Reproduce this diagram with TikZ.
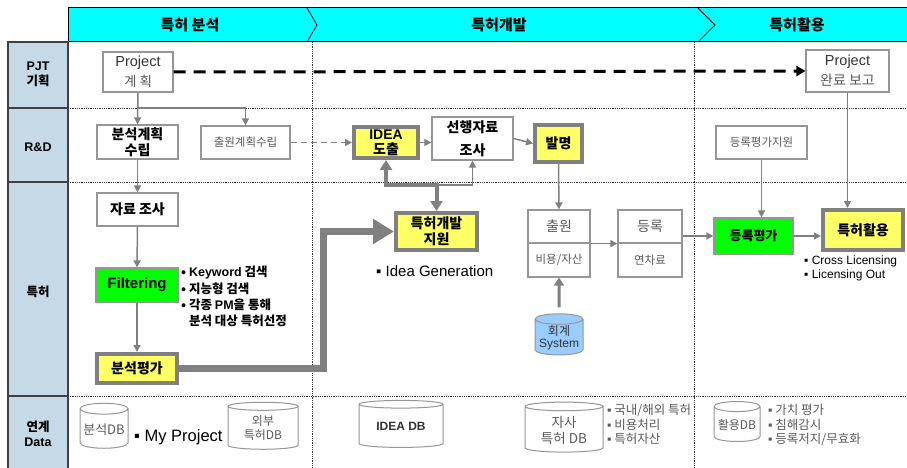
\documentclass[tikz,border=0pt]{standalone}
\usepackage{fontspec}
\setmainfont{Noto Sans CJK KR}
\newfontfamily\en{Liberation Sans}
\usepackage{xcolor}
\usetikzlibrary{arrows, arrows.meta}
\usetikzlibrary{positioning}
\usetikzlibrary{calc}
\usetikzlibrary{shapes.geometric}

\definecolor{hdrCyan}{RGB}{0,255,255}
\definecolor{laneBlue}{RGB}{197,217,230}
\definecolor{lnGray}{RGB}{128,128,128}
\definecolor{boxGray}{RGB}{150,150,150}
\definecolor{txtGray}{RGB}{90,90,90}
\definecolor{hiYel}{RGB}{255,255,102}
\definecolor{hiGrn}{RGB}{0,255,0}
\definecolor{dbBlue}{RGB}{153,204,255}
\newcommand{\sqb}{{\en ▪}\ }

\tikzset{
	hdr/.style={font=\bfseries\fontsize{15}{17}\selectfont},
	lane/.style={align=center, font=\bfseries\fontsize{12.5}{15}\selectfont},
	tbox/.style={draw=boxGray, line width=1.2pt, fill=white, align=center, inner sep=1pt, text=txtGray, font=\fontsize{11.5}{14}\selectfont},
	boldbox/.style={tbox, text=black, font=\bfseries\fontsize{14}{17}\selectfont},
	hibox/.style={boldbox, fill=hiYel, draw=lnGray, line width=4pt},
	grnbox/.style={boldbox, fill=hiGrn},
	db/.style={cylinder, shape border rotate=90, draw=boxGray, line width=1pt, fill=white, aspect=0.25, align=center, inner sep=1pt, text=txtGray, font=\fontsize{12}{14}\selectfont},
	bullets/.style={align=left, inner sep=0pt, anchor=north west},
	flow/.style={draw=lnGray, line width=1.5pt, -{Triangle[length=7pt,width=7pt]}},
	bigflow/.style={draw=lnGray, line width=7pt, -{Triangle[length=21pt,width=24pt]}},
	midflow/.style={draw=lnGray, line width=4pt, {Triangle[length=10pt,width=12pt]}-{Triangle[length=10pt,width=12pt]}},
	pjtflow/.style={draw=black, line width=3pt, dash pattern=on 12pt off 8pt, -{Triangle[length=9pt,width=10pt]}},
	grid/.style={draw=black!80, line width=0.8pt, densely dotted},
}

\begin{document}
\begin{tikzpicture}[x=1pt,y=-1pt]
	\useasboundingbox (0,0) rectangle (907,468);
	% header band
	\fill[hdrCyan] (68,8) rectangle (907,42);
	\draw[line width=1pt] (907,8) -- (68,8) -- (68,42) -- (907,42);
	\draw[line width=0.8pt] (307,8) -- (317,25) -- (307,42);
	\draw[line width=0.8pt] (698,8) -- (715,25) -- (698,42);
	\node[hdr] (hdAn) at (190,25) {특허 분석};
	\node[hdr] (hdDev) at (499,25) {특허개발};
	\node[hdr] (hdUse) at (797,25) {특허활용};
	% swim lanes
	\fill[laneBlue] (8,42) rectangle (68,468);
	\draw[black!75, line width=1.5pt] (8,468) -- (8,42) -- (68,42) -- (68,468);
	\foreach \y in {108,182,396} {
		\draw[black!75, line width=1.5pt] (8,\y) -- (68,\y);
		\draw[grid] (68,\y) -- (907,\y);
	}
	\foreach \x in {312,694}
		\draw[grid] (\x,42) -- (\x,468);
	\node[lane] (lnPjt) at (38,74) {{\en PJT}\\기획};
	\node[lane] (lnRnd) at (38,147) {\en R\&D};
	\node[lane] (lnPat) at (38,292) {특허};
	\node[lane] (lnData) at (38,434) {연계\\{\en Data}};

	% PJT row
	\node[tbox, minimum width=70pt, minimum height=40pt, font=\fontsize{13.5}{15}\selectfont] (pjtPlan) at (138,72) {{\en\fontsize{14.5}{16}\selectfont\color{black!80}Project}\\[5pt]계 획};
	\node[tbox, minimum width=83pt, minimum height=42pt, font=\fontsize{14}{15}\selectfont] (pjtDone) at (847.5,71) {{\en\fontsize{14.5}{16}\selectfont\color{black!80}Project}\\[5pt]완료 보고};
	\draw[pjtflow] (pjtPlan.east) -- (pjtDone.west);

	% R&D row
	\node[boldbox, minimum width=81pt, minimum height=34pt] (anPlan) at (137.5,142) {분석계획\\[-1pt]수립};
	\node[tbox, minimum width=89pt, minimum height=33pt] (filePlan) at (245.5,142.5) {출원계획수립};
	\node[hibox, minimum width=64pt, minimum height=31pt] (ideaOut) at (386,142.5) {{\en IDEA}\\[-2pt]도출};
	\node[boldbox, minimum width=81pt, minimum height=43pt] (prior) at (472.5,138.5) {선행자료\\[6pt]조사};
	\node[hibox, minimum width=47pt, minimum height=37pt] (invent) at (558.5,143.5) {발명};
	\node[tbox, minimum width=91pt, minimum height=33pt] (regSup) at (761.5,142.5) {등록평가지원};
	\coordinate (brPlan) at (138,108);
	\draw[flow] (pjtPlan.south) -- (anPlan.north);
	\draw[flow] (brPlan) -| (filePlan.north);
	\draw[flow, dash pattern=on 6pt off 4pt, line width=1.2pt] (filePlan.east) -- (ideaOut.west);
	\draw[flow] (ideaOut.east) -- (prior.west |- ideaOut.east);
	\draw[flow] (prior.east) -- (invent.west);

	% patent row
	\node[boldbox, minimum width=81pt, minimum height=33pt] (dataSrch) at (137.5,209.5) {자료 조사};
	\node[grnbox, minimum width=82pt, minimum height=34pt, font=\en\bfseries\fontsize{15}{17}\selectfont] (filt) at (137,285) {Filtering};
	\node[bullets, font=\bfseries\fontsize{12.5}{16.3}\selectfont] (filtNote) at (181,266) {• {\en Keyword} 검색\\• 지능형 검색\\• 각종 {\en PM}을 통해\\\phantom{• }분석 대상 특허선정};
	\node[hibox, minimum width=80pt, minimum height=29pt] (anEval) at (137,368.5) {분석평가};
	\node[hibox, minimum width=81pt, minimum height=37pt] (devSup) at (436.5,231.5) {특허개발\\[-1pt]지원};
	\node[bullets, font=\en\fontsize{15}{17}\selectfont] (ideaGen) at (376,265) {▪ Idea Generation};
	\node[tbox, minimum width=62pt, minimum height=33pt, font=\fontsize{14}{16}\selectfont] (filing) at (559,226.5) {출원};
	\node[tbox, minimum width=62pt, minimum height=34pt] (filingCost) at (559,260) {비용/자산};
	\node[tbox, minimum width=64pt, minimum height=33pt, font=\fontsize{14}{16}\selectfont] (reg) at (650,226.5) {등록};
	\node[tbox, minimum width=64pt, minimum height=34pt] (regFee) at (650,260) {연차료};
	\node[db, fill=dbBlue, minimum width=48pt, minimum height=40pt, text=black!80] (acct) at (559,338) {회계\\[-2pt]{\en System}};
	\node[grnbox, minimum width=79pt, minimum height=36pt, font=\bfseries\fontsize{13}{15}\selectfont] (regEval) at (753.5,236) {등록평가};
	\node[hibox, minimum width=80pt, minimum height=40pt] (useIt) at (863,230) {특허활용};
	\node[bullets, font=\en\fontsize{12}{14}\selectfont] (useNote) at (804,256) {▪ Cross Licensing\\▪ Licensing Out};
	\coordinate (jnDev) at (436.5,185);
	\draw[flow] (anPlan.south) -- (dataSrch.north);
	\draw[flow] (dataSrch.south) -- (filt.north);
	\draw[flow] (filt.south) -- (anEval.north);
	\draw[bigflow] (anEval.east) -- ++(144,0) |- (devSup.west);
	\draw[midflow] (ideaOut.south) |- (jnDev) -- (devSup.north);
	\draw[flow] (jnDev) -| (prior.south);
	\draw[flow] (invent.south) -- (filing.north);
	\draw[flow] (filing.south east) -- (reg.south west);
	\draw[draw=lnGray, line width=3pt, -{Triangle[length=8pt,width=10pt]}, shorten <=6pt] (acct.north) -- (filingCost.south);
	\draw[flow] (reg.east |- regEval.west) -- (regEval.west);
	\draw[flow] (regSup.south) -- (regSup.south |- regEval.north);
	\draw[flow] (regEval.east) -- (useIt.west |- regEval.east);
	\draw[flow] (pjtDone.south) -- (pjtDone.south |- useIt.north);

	% data row
	\node[db, minimum width=48pt, minimum height=45pt, font=\fontsize{13}{15}\selectfont] (anDB) at (104,429.5) {분석DB};
	\node[bullets, anchor=west, font=\en\fontsize{16.5}{18}\selectfont] (myProj) at (134,437) {▪ My Project};
	\node[db, minimum width=70pt, minimum height=47pt, aspect=0.2] (extDB) at (263,428.5) {외부\\특허DB};
	\node[db, minimum width=84pt, minimum height=47pt, aspect=0.15, text=black!80, font=\en\bfseries\fontsize{12}{14}\selectfont] (ideaDB) at (401,426.5) {IDEA DB};
	\node[db, minimum width=78pt, minimum height=50pt, aspect=0.18, font=\fontsize{13.5}{16}\selectfont] (ownDB) at (564,430) {자사\\특허 DB};
	\node[bullets, font=\fontsize{12.5}{14.5}\selectfont, text=txtGray] (ownNote) at (607,404) {\sqb 국내/해외 특허\\\sqb 비용처리\\\sqb 특허자산};
	\node[db, minimum width=46pt, minimum height=40pt] (useDB) at (737,425) {활용DB};
	\node[bullets, font=\fontsize{12.5}{14.5}\selectfont, text=txtGray] (useDBNote) at (768,404) {\sqb 가치 평가\\\sqb 침해감시\\\sqb 등록저지/무효화};
\end{tikzpicture}
\end{document}
